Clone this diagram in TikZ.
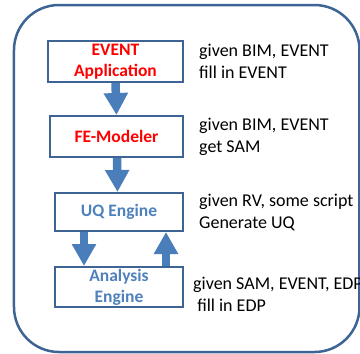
\documentclass[tikz,border=0pt]{standalone}
\usepackage{fontspec}
\setmainfont{Carlito}
\usepackage{tikz}
\usetikzlibrary{arrows.meta}
\definecolor{frameblue}{HTML}{3D6494}
\definecolor{arrowblue}{HTML}{4A7EBB}
\definecolor{engblue}{HTML}{4F81BD}

\begin{document}
\begin{tikzpicture}[x=1pt, y=-1pt,
    stage/.style={draw=frameblue, line width=2pt, fill=white, align=center,
        inner sep=0pt, font=\fontsize{17.5}{21}\selectfont\bfseries},
    note/.style={anchor=west, align=left, inner sep=0pt,
        font=\fontsize{18}{22}\selectfont},
    flow/.style={draw=arrowblue, line width=8.5pt,
        -{Triangle[width=23pt, length=22pt]}}]
    \clip (0,0) rectangle (360,354);
          \draw[frameblue, line width=2.5pt, rounded corners=45pt]
                (14,5) rectangle (359.5,352);
          \node[stage, text=red, minimum width=135pt, minimum height=41pt]
                (event) at (115.5,61.5) {EVENT\\Application};
          \node[stage, text=red, minimum width=133pt, minimum height=41pt]
                (femod) at (116.5,136.5) {FE-Modeler};
          \node[stage, text=engblue, minimum width=128pt, minimum height=38pt]
                (uq) at (119,212) {UQ Engine};
          \node[stage, text=engblue, minimum width=128pt, minimum height=40pt]
                (anal) at (119,287) {Analysis\\Engine};
          \node[note] (eventnote) at (199,61) {given BIM, EVENT\\fill in EVENT};
          \node[note] (femodnote) at (199,137) {given BIM, EVENT\\get SAM};
          \node[note] (uqnote) at (199,212.5) {given RV, some script\\Generate UQ};
          \node[note] (analnote) at (193,294) {given SAM, EVENT, EDP\\\ fill in EDP};
          \draw[flow] (event.south) -- (femod.north);
          \draw[flow] ([xshift=0.5pt]femod.south) -- ([xshift=-1.5pt]uq.north);
          \draw[flow] ([xshift=-35pt]uq.south) -- ([xshift=-35pt]anal.north);
          \draw[flow] ([xshift=47pt]anal.north) -- ([xshift=47pt]uq.south);
    \end{tikzpicture}
\end{document}
